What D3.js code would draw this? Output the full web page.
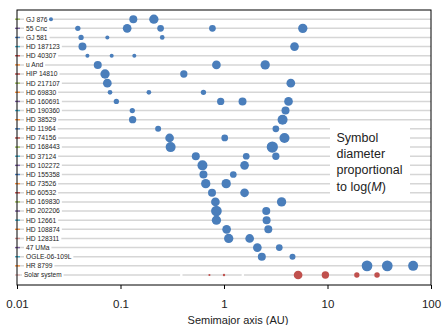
<!DOCTYPE html>
<html>
<head>
<meta charset="utf-8">
<script src="https://cdn.jsdelivr.net/npm/d3@7"></script>
<style>
  body { margin: 0; background: #fff; }
  svg { display: block; font-family: "Liberation Sans", Arial, sans-serif; }
</style>
</head>
<body>
<svg id="chart" width="443" height="325"></svg>
<script>
// planetary systems, one row each (top to bottom)
const systems = [
  "GJ 876", "55 Cnc", "GJ 581", "HD 187123", "HD 40307", "u And", "HIP 14810",
  "HD 217107", "HD 69830", "HD 160691", "HD 190360", "HD 38529", "HD 11964",
  "HD 74156", "HD 168443", "HD 37124", "HD 102272", "HD 155358", "HD 73526",
  "HD 60532", "HD 169830", "HD 202206", "HD 12661", "HD 108874", "HD 128311",
  "47 UMa", "OGLE-06-109L", "HR 8799", "Solar system"
];

// semimajor axis of each planet (AU)
const semimajor = [
  [0.0213, 0.133, 0.21],
  [0.0387, 0.116, 0.244, 0.773, 5.77],
  [0.0416, 0.0746, 0.253],
  [0.0429, 4.8],
  [0.0479, 0.0822, 0.136],
  [0.0603, 0.845, 2.5],
  [0.0709, 0.409],
  [0.0746, 4.42],
  [0.0792, 0.188, 0.633],
  [0.0912, 0.929, 1.51, 4.2],
  [0.13, 3.93],
  [0.131, 3.68],
  [0.231, 3.17],
  [0.298, 1.016, 3.84],
  [0.305, 2.93],
  [0.534, 1.64, 3.17],
  [0.619, 1.58],
  [0.633, 1.23],
  [0.666, 1.05],
  [0.766, 1.58],
  [0.826, 3.6],
  [0.845, 2.56],
  [0.845, 2.58],
  [1.06, 2.68],
  [1.11, 1.77],
  [2.1, 3.42],
  [2.32, 4.59],
  [24.1, 37.8, 67.2],
  [0.387, 0.723, 1.0, 1.52, 5.2, 9.54, 19.2, 30.1]
];

// planet masses (Earth masses)
const masses = [
  [4.5, 167, 550],
  [14.5, 315, 52, 52, 550],
  [14.5, 4.5, 8.4],
  [167, 315],
  [4.5, 4.5, 4.5],
  [167, 315, 550],
  [550, 89],
  [315, 315],
  [8.4, 8.4, 14.5],
  [14.5, 89, 167, 315],
  [14.5, 167],
  [89, 1030],
  [27, 52],
  [315, 52, 1030],
  [1030, 3340],
  [167, 52, 89],
  [1030, 315],
  [167, 52],
  [550, 550],
  [167, 315],
  [315, 550],
  [1950, 167],
  [550, 167],
  [315, 167],
  [550, 315],
  [315, 52],
  [167, 27],
  [1950, 1950, 1030],
  [0.055, 0.815, 1.0, 0.107, 318, 95, 14.5, 17.1]
];

const axisTicks = [0.01, 0.1, 1, 10, 100];
const legendLines = ["Symbol", "diameter", "proportional", "to log("];

// little series swatches at the left edge
const seriesColors = [
  "#9bbb59", "#8064a2", "#4f81bd", "#4bacc6", "#c0504d", "#f79646", "#c0504d",
  "#9bbb59", "#f79646", "#8064a2", "#4bacc6", "#f79646", "#4f81bd", "#c0504d",
  "#9bbb59", "#4bacc6", "#8064a2", "#4f81bd", "#f79646", "#c0504d", "#9bbb59",
  "#8064a2", "#4bacc6", "#f79646", "#d99694", "#8064a2", "#4bacc6", "#f79646",
  "#e6b9b8"
];

const plotLeft = 17, plotRight = 431, plotTop = 10, plotBottom = 285;
const svg = d3.select("#chart");

const x = d3.scaleLog().domain([0.01, 100]).range([plotLeft, plotRight]);
const y = d3.scalePoint().domain(systems).range([19.2, 275]);
// diameter proportional to log(M)
const diam = d3.scaleLog().domain([1, 1000]).range([2.35, 9.97]);

// gridlines per row
svg.append("g")
  .selectAll("line")
  .data(systems)
  .join("line")
  .attr("x1", plotLeft).attr("x2", plotRight)
  .attr("y1", d => y(d)).attr("y2", d => y(d))
  .attr("stroke", "#d6d6d6")
  .attr("stroke-width", 1.5);

svg.append("g")
  .selectAll("line")
  .data(systems)
  .join("line")
  .attr("x1", plotLeft - 2).attr("x2", plotLeft + 3)
  .attr("y1", d => y(d)).attr("y2", d => y(d))
  .attr("stroke", (d, i) => seriesColors[i])
  .attr("stroke-width", 1.4);

// row labels with white backing
const labels = svg.append("g")
  .selectAll("g")
  .data(systems)
  .join("g")
  .attr("transform", d => `translate(0,${y(d)})`);

labels.append("rect").attr("class", "bg").attr("fill", "#fff");
labels.append("text")
  .attr("x", (d, i) => i === systems.length - 1 ? 24 : 26)
  .attr("dy", "0.35em")
  .attr("font-size", (d, i) => i === systems.length - 1 ? 6.5 : 6.7)
  .attr("fill", "#222")
  .text(d => d);

labels.each(function () {
  const g = d3.select(this);
  const t = g.select("text");
  const w = t.node().getComputedTextLength();
  const x0 = +t.attr("x");
  g.select("rect").attr("x", x0 - 2).attr("y", -4).attr("width", w + 4).attr("height", 8);
});

// planets
const planets = [];
systems.forEach((s, i) => {
  semimajor[i].forEach((a, j) => {
    planets.push({ system: s, solar: i === systems.length - 1, a, m: masses[i][j] });
  });
});

svg.append("g")
  .selectAll("circle")
  .data(planets)
  .join("circle")
  .attr("cx", d => x(d.a))
  .attr("cy", d => y(d.system))
  .attr("r", d => Math.max(Math.abs(diam(d.m)), diam(d.m) < 0 ? 2.6 : 0) / 2)
  .attr("fill", d => diam(d.m) < 0 ? "#fff" : (d.solar ? "#c0504d" : "#4a7ebb"));

// legend note
svg.append("rect")
  .attr("x", 330).attr("y", 127).attr("width", 80).attr("height", 68)
  .attr("fill", "#fff");

const note = svg.append("text")
  .attr("x", 336.5)
  .attr("font-size", 12.5)
  .attr("fill", "#222");
legendLines.forEach((line, i) => {
  note.append("tspan").attr("x", 336.5).attr("y", 141.5 + i * 16.4).text(line);
  if (i === legendLines.length - 1) {
    note.append("tspan").attr("font-style", "italic").text("M");
    note.append("tspan").text(")");
  }
});

// plot frame
svg.append("rect")
  .attr("x", plotLeft).attr("y", plotTop)
  .attr("width", plotRight - plotLeft).attr("height", plotBottom - plotTop)
  .attr("fill", "none").attr("stroke", "#000").attr("stroke-width", 1);

// x axis
const axis = svg.append("g")
  .attr("transform", `translate(0,${plotBottom})`)
  .call(d3.axisBottom(x).tickValues(axisTicks).tickSize(4).tickFormat(d3.format("~g")));
axis.select(".domain").remove();
axis.selectAll(".tick line").attr("stroke", "#000");
axis.selectAll(".tick text")
  .attr("y", 23).attr("dy", 0)
  .attr("font-size", 11.5)
  .attr("font-family", "Liberation Sans, Arial, sans-serif")
  .attr("fill", "#222");

svg.append("text")
  .attr("x", 238).attr("y", 323.5)
  .attr("text-anchor", "middle")
  .attr("font-size", 11)
  .attr("fill", "#222")
  .text("Semimajor axis (AU)");
</script>
</body>
</html>
